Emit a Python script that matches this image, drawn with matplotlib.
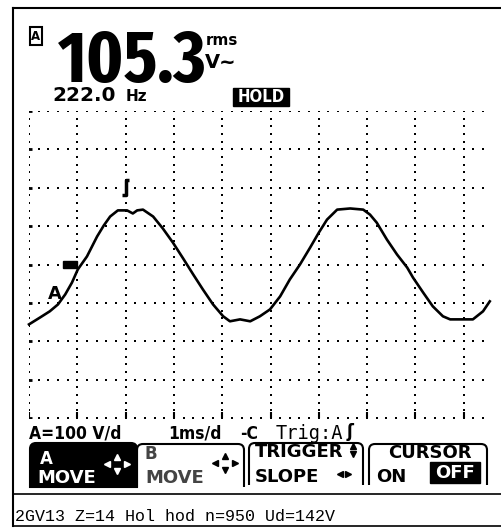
import os
import numpy as np
import matplotlib.pyplot as plt
from matplotlib import font_manager as fm
from matplotlib.patches import Rectangle, PathPatch
from matplotlib.path import Path

W, H = 501, 530

# channel A trace: time (ms) and voltage (V), 1 ms/div and 100 V/div
t_ms = [0.00, 0.23, 0.43, 0.60, 0.75, 0.89, 1.01, 1.20, 1.41, 1.55, 1.68, 1.84,
        2.03, 2.15, 2.24, 2.36, 2.57, 2.77, 2.98, 3.19, 3.40, 3.60, 3.81, 4.02,
        4.16, 4.37, 4.58, 4.78, 4.99, 5.20, 5.40, 5.61, 5.82, 6.00, 6.17, 6.38,
        6.65, 6.92, 7.06, 7.20, 7.41, 7.62, 7.83, 7.95, 8.16, 8.36, 8.57, 8.72,
        8.99, 9.19, 9.40, 9.54]
volts = [-156, -138, -122, -104, -78, -47, -13, 21, 73, 102, 125, 141,
         141, 133, 141, 143, 125, 94, 57, 16, -26, -65, -104, -135,
         -148, -143, -148, -135, -117, -83, -39, 0, 44, 83, 117, 143,
         146, 143, 130, 109, 65, 26, -8, -34, -73, -109, -135, -143,
         -143, -143, -122, -96]

reading = "105.3"
freq = "222.0"
volt_div = 100
time_div = 1
trig_t, trig_v = 2.0, 200
zero_t = 0.85
status = "2GV13 Z=14 Hol hod n=950 Ud=142V"


def bold_narrow(size, extra=False):
    """Pick an installed condensed bold face, falling back to DejaVu Sans Bold."""
    best, best_rank = None, 99
    for f in fm.fontManager.ttflist:
        base = os.path.basename(f.fname).lower()
        w = f.weight if isinstance(f.weight, int) else fm.weight_dict.get(f.weight, 400)
        if w != 700 or f.style != 'normal':
            continue
        if 'extracondensed' in base:
            rank = 0 if extra else 2
        elif 'semicondensed' in base:
            rank = 3
        elif 'condensed' in base or 'narrow' in base:
            rank = 1 if extra else 0
        else:
            continue
        if rank < best_rank:
            best, best_rank = f.fname, rank
    if best is None:
        return fm.FontProperties(family='DejaVu Sans', weight='bold', size=size)
    return fm.FontProperties(fname=best, size=size)


def bold(size):
    return fm.FontProperties(family='DejaVu Sans', weight='bold', size=size)


fig = plt.figure(figsize=(W / 100, H / 100), dpi=100)
fig.patch.set_facecolor('white')

# overlay in pixel units for the instrument furniture
ov = fig.add_axes([0, 0, 1, 1])
ov.set_xlim(0, W)
ov.set_ylim(H, 0)
ov.axis('off')

# scope graticule: 10 x 8 divisions
gx0, gy0, gy1 = 29, 111, 418
div_w = 48.3
sc = fig.add_axes([gx0 / W, 1 - gy1 / H, 10 * div_w / W, (gy1 - gy0) / H])
sc.set_xlim(0, 10 * time_div)
sc.set_ylim(-4 * volt_div, 4 * volt_div)
sc.axis('off')
sc.patch.set_visible(False)

dot = dict(ls='none', marker='s', ms=1.7, color='black', mew=0)
hx = np.arange(0, 9.41, 0.2)
for v in range(-400, 401, 100):
    sc.plot(hx, np.full_like(hx, v), **dot)
vy = np.arange(-400, 401, 20)
for t in range(0, 10):
    sc.plot(np.full_like(vy, t, dtype=float), vy, **dot)
# edge ticks
sc.plot(np.zeros(9), np.arange(-400, 401, 100), ls='none', marker='_', ms=5, mew=2, color='black')
sc.plot(np.arange(0, 10), np.full(10, -392), ls='none', marker='|', ms=4, mew=1.5, color='black')

sc.plot(t_ms, volts, color='black', lw=1.9, solid_joinstyle='round', clip_on=False)

# ground marker and channel label
sc.add_patch(Rectangle((zero_t - 0.15, -8), 0.3, 16, color='black'))
sc.text(zero_t - 0.32, -78, 'A', fontproperties=bold(13), ha='center', va='center')
# trigger point flag
sc.plot([trig_t + 0.08, trig_t, trig_t, trig_t - 0.08],
        [trig_v + 20, trig_v + 20, trig_v - 20, trig_v - 20],
        color='black', lw=2.5, solid_capstyle='butt')

# frame
ov.plot([13, 13], [8, 526], color='black', lw=1.5)
ov.plot([13, W], [8, 8], color='black', lw=1.5)
ov.plot([13, W], [494, 494], color='black', lw=1.2)
ov.plot([13, W], [526, 526], color='black', lw=1.2)

# channel icon
ov.add_patch(Rectangle((30, 27), 12, 18, fill=False, lw=1.5, ec='black'))
ov.text(36, 36.5, 'A', fontproperties=bold(8.5), ha='center', va='center')

# main reading
ov.text(58, 82, reading, fontproperties=bold_narrow(53, extra=True), va='baseline')
ov.text(206, 45, 'rms', fontproperties=bold(11), va='baseline')
ov.text(205, 68, 'V~', fontproperties=bold(14), va='baseline')
ov.text(52, 101, freq, fontproperties=bold(14.5), va='baseline')
ov.text(126, 101, 'Hz', fontproperties=bold(11), va='baseline')

ov.add_patch(Rectangle((233, 88), 56, 18, color='black'))
ov.text(261, 97.5, 'HOLD', fontproperties=bold_narrow(12), color='white',
        ha='center', va='center')

# status line
sfont = bold_narrow(12.5)
ov.text(29, 439, f'A={volt_div} V/d', fontproperties=sfont, va='baseline')
ov.text(168, 439, f'{time_div}ms/d', fontproperties=sfont, va='baseline')
ov.text(240, 439, '-C', fontproperties=sfont, va='baseline')
ov.text(276, 439, 'Trig:A', fontproperties=fm.FontProperties(family='DejaVu Sans Mono', size=13.5),
        va='baseline')
ov.text(347, 437, '\u0283', fontproperties=bold(12), va='baseline')


def tab(x0, x1, y0, y1, fill=False, r=6):
    verts = [(x0, y1), (x0, y0 + r), (x0, y0), (x0 + r, y0),
             (x1 - r, y0), (x1, y0), (x1, y0 + r), (x1, y1)]
    codes = [Path.MOVETO, Path.LINETO, Path.CURVE3, Path.CURVE3,
             Path.LINETO, Path.CURVE3, Path.CURVE3, Path.LINETO]
    if fill:
        verts.append((x0, y1))
        codes.append(Path.CLOSEPOLY)
    ov.add_patch(PathPatch(Path(verts, codes), fc='black' if fill else 'none',
                           ec='black', lw=1.5))


def arrows(cx, cy, color, dx=10, dy=7, ms=5):
    ov.plot([cx - dx], [cy], marker='<', ms=ms, color=color, ls='none')
    ov.plot([cx + dx], [cy], marker='>', ms=ms, color=color, ls='none')
    ov.plot([cx], [cy - dy], marker='^', ms=ms, color=color, ls='none')
    ov.plot([cx], [cy + dy], marker='v', ms=ms, color=color, ls='none')


tab(30, 137, 443, 487, fill=True)
tab(137, 244, 444, 487)
tab(249, 363, 443, 485)
tab(369, 487, 444, 485)

mfont = bold(13)
ov.text(40, 464, 'A', color='white', fontproperties=bold(12), va='baseline')
ov.text(37, 483, 'MOVE', color='white', fontproperties=mfont, va='baseline')
arrows(117, 464, 'white')
ov.text(145, 459, 'B', color='#444444', fontproperties=bold(12), va='baseline')
ov.text(145, 483, 'MOVE', color='#444444', fontproperties=mfont, va='baseline')
arrows(225, 463, 'black')
ov.text(255, 457, 'TRIGGER', fontproperties=mfont, va='baseline')
ov.plot([353], [446], marker='^', ms=4.5, color='black', ls='none')
ov.plot([353], [454], marker='v', ms=4.5, color='black', ls='none')
ov.text(255, 482, 'SLOPE', fontproperties=mfont, va='baseline')
ov.plot([340], [474], marker='<', ms=4.5, color='black', ls='none')
ov.plot([348], [474], marker='>', ms=4.5, color='black', ls='none')
ov.text(388, 458, 'CURSOR', fontproperties=mfont, va='baseline')
ov.text(376, 482, 'ON', fontproperties=mfont, va='baseline')
ov.add_patch(Rectangle((430, 462), 50, 21, color='black'))
ov.text(455, 472.5, 'OFF', color='white', fontproperties=mfont, ha='center', va='center')

ov.text(15, 521, status, fontproperties=fm.FontProperties(family=['Liberation Mono', 'DejaVu Sans Mono'], size=12),
        va='baseline')

fig.savefig('out.png', dpi=100, facecolor='white')
